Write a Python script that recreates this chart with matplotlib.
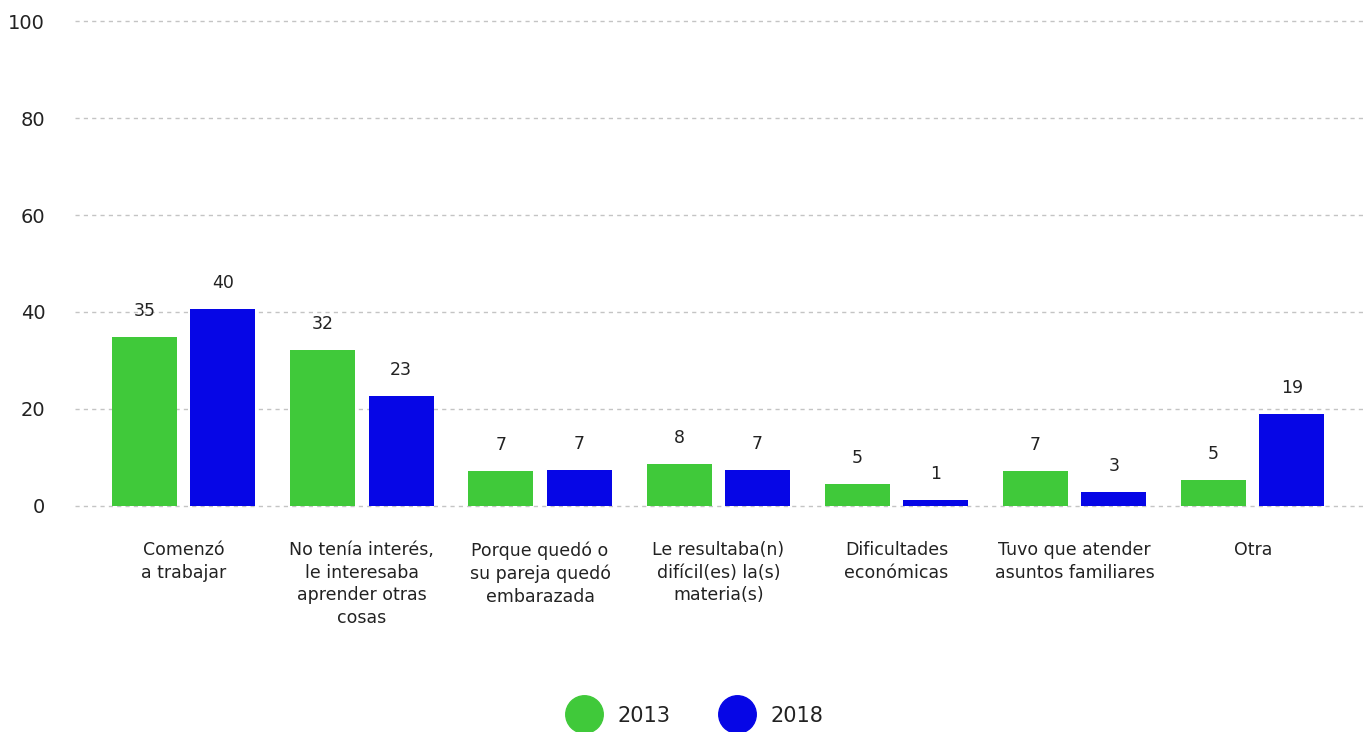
import matplotlib
matplotlib.use('Agg')
import matplotlib.pyplot as plt
from matplotlib.lines import Line2D
import numpy as np

plt.rcParams['font.family'] = ['DejaVu Sans']

categories = ['Comenzó\na trabajar',
              'No tenía interés,\nle interesaba\naprender otras\ncosas',
              'Porque quedó o\nsu pareja quedó\nembarazada',
              'Le resultaba(n)\ndifícil(es) la(s)\nmateria(s)',
              'Dificultades\neconómicas',
              'Tuvo que atender\nasuntos familiares',
              'Otra']
vals_2013 = [34.8, 32.2, 7.2, 8.7, 4.5, 7.2, 5.4]
vals_2018 = [40.6, 22.7, 7.4, 7.4, 1.2, 2.9, 19.0]
labels_2013 = ['35', '32', '7', '8', '5', '7', '5']
labels_2018 = ['40', '23', '7', '7', '1', '3', '19']
years = ['2013', '2018']
colors = ['#40c93a', '#0606e6']

fig = plt.figure(figsize=(13.65, 7.32), dpi=100)
ax = fig.add_axes([0.055, 0.309, 0.945, 0.662])

x = np.arange(len(categories))
w = 0.365
off = 0.22
ax.bar(x - off, vals_2013, w, color=colors[0], zorder=3)
ax.bar(x + off, vals_2018, w, color=colors[1], zorder=3)

for xi, v, l in zip(x, vals_2013, labels_2013):
    ax.text(xi - off, v + 3.5, l, ha='center', va='bottom', fontsize=12.5, color='#222222')
for xi, v, l in zip(x, vals_2018, labels_2018):
    ax.text(xi + off, v + 3.5, l, ha='center', va='bottom', fontsize=12.5, color='#222222')

ax.set_xlim(-0.61, 6.63)
ax.set_ylim(0, 100)
ax.set_yticks([0, 20, 40, 60, 80, 100])
ax.yaxis.grid(True, linestyle=(0, (3, 3)), color='#c4c4c4', linewidth=1)
for gl in ax.get_ygridlines():
    gl.set_clip_on(False)
ax.set_axisbelow(True)
for s in ax.spines.values():
    s.set_visible(False)
ax.tick_params(axis='y', length=0, pad=21.5, labelsize=14, labelcolor='#222222')
ax.tick_params(axis='x', length=0)
ax.set_xticks([])

for xi, c in zip(x, categories):
    ax.text(xi, -7.3, c, ha='center', va='top', fontsize=12.5, color='#222222',
            linespacing=1.33)

handles = [Line2D([], [], marker='o', linestyle='', markersize=27, color=c) for c in colors]
fig.legend(handles, years, loc='lower center', bbox_to_anchor=(0.508, -0.017), ncol=2,
           frameon=False, fontsize=15, handletextpad=0.6, columnspacing=2.2,
           labelcolor='#222222')

fig.savefig('out.png', dpi=100)
